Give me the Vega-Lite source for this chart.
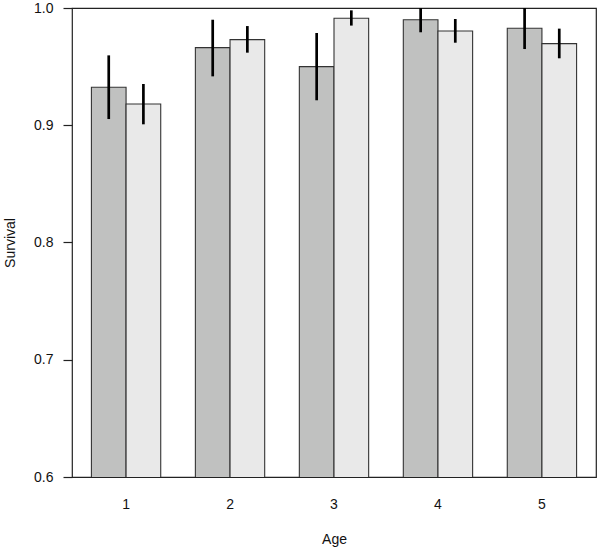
{
  "$schema": "https://vega.github.io/schema/vega-lite/v6.json",
  "autosize": "none",
  "padding": {"left": 72, "top": 8, "right": 4, "bottom": 73},
  "width": 524,
  "height": 469,
  "background": "white",
  "config": {
    "view": {"stroke": "#222", "strokeWidth": 1.2},
    "font": "Liberation Sans",
    "axis": {"labelFont": "Liberation Sans", "titleFont": "Liberation Sans", "labelColor": "#111", "titleColor": "#111", "titleFontWeight": "normal", "labelFontSize": 14, "titleFontSize": 14, "grid": false}
  },
  "data": {
    "values": [
      {"age": "1", "group": "A", "mean": 0.9324, "lo": 0.9053, "hi": 0.9596},
      {"age": "1", "group": "B", "mean": 0.9181, "lo": 0.9008, "hi": 0.9352},
      {"age": "2", "group": "A", "mean": 0.9662, "lo": 0.9417, "hi": 0.9900},
      {"age": "2", "group": "B", "mean": 0.9730, "lo": 0.9619, "hi": 0.9846},
      {"age": "3", "group": "A", "mean": 0.9500, "lo": 0.9213, "hi": 0.9787},
      {"age": "3", "group": "B", "mean": 0.9912, "lo": 0.9850, "hi": 0.9980},
      {"age": "4", "group": "A", "mean": 0.9900, "lo": 0.9793, "hi": 1.0007},
      {"age": "4", "group": "B", "mean": 0.9804, "lo": 0.9704, "hi": 0.9906},
      {"age": "5", "group": "A", "mean": 0.9827, "lo": 0.9650, "hi": 1.0004},
      {"age": "5", "group": "B", "mean": 0.9696, "lo": 0.9571, "hi": 0.9824}
    ]
  },
  "encoding": {
    "x": {
      "field": "age", "type": "nominal",
      "scale": {"paddingInner": 0.3333, "paddingOuter": 0.1867},
      "axis": {"title": "Age", "labelAngle": 0, "ticks": false, "domain": false, "labelPadding": 20, "titlePadding": 21}
    },
    "xOffset": {"field": "group", "type": "nominal", "scale": {"paddingInner": 0, "paddingOuter": 0}}
  },
  "layer": [
    {
      "mark": {"type": "bar", "clip": true, "stroke": "#333", "strokeWidth": 1.1},
      "encoding": {
        "y": {
          "field": "mean", "type": "quantitative",
          "scale": {"domain": [0.6, 1.0], "zero": false, "nice": false},
          "axis": {"title": "Survival", "values": [0.6, 0.7, 0.8, 0.9, 1.0], "format": ".1f", "domain": false, "tickSize": 9, "tickColor": "#222", "tickWidth": 1.2, "labelPadding": 10, "titlePadding": 16}
        },
        "fill": {
          "field": "group", "type": "nominal",
          "scale": {"domain": ["A", "B"], "range": ["#c0c1c0", "#e9e9e9"]},
          "legend": null
        }
      }
    },
    {
      "mark": {"type": "rule", "clip": true, "color": "black", "strokeWidth": 2.7},
      "encoding": {
        "y": {"field": "lo", "type": "quantitative"},
        "y2": {"field": "hi"}
      }
    }
  ]
}
